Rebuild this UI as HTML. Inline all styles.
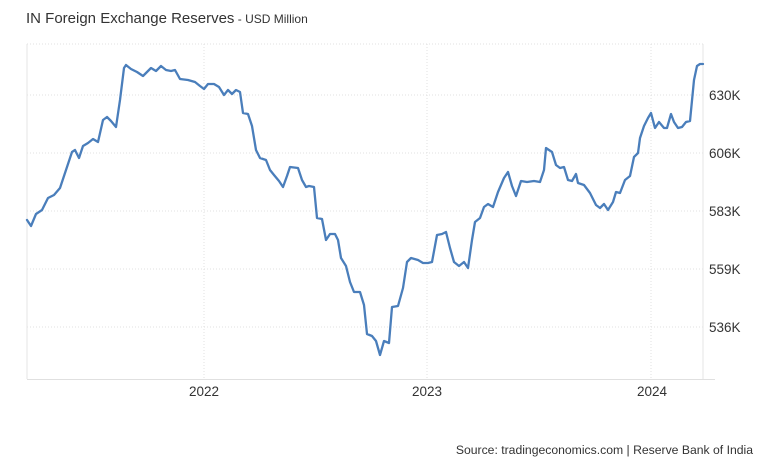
<!DOCTYPE html>
<html><head><meta charset="utf-8"><style>
html,body{margin:0;padding:0;background:#fff;width:778px;height:461px;overflow:hidden;font-family:"Liberation Sans",Arial,sans-serif;}
</style></head><body>
<svg width="778" height="461" xmlns="http://www.w3.org/2000/svg" font-family="Liberation Sans, Arial, sans-serif">
<text x="26" y="23" font-size="15" fill="#333">IN Foreign Exchange Reserves<tspan font-size="12"> - USD Million</tspan></text>
<g stroke="#e0e0e0" stroke-width="1" stroke-dasharray="1,2">
<line x1="27" y1="44" x2="703" y2="44"/>
<line x1="27" y1="95" x2="703" y2="95"/>
<line x1="27" y1="153" x2="703" y2="153"/>
<line x1="27" y1="211" x2="703" y2="211"/>
<line x1="27" y1="269" x2="703" y2="269"/>
<line x1="27" y1="327" x2="703" y2="327"/>
<line x1="204" y1="44" x2="204" y2="379"/>
<line x1="427" y1="44" x2="427" y2="379"/>
<line x1="651" y1="44" x2="651" y2="379"/>
</g>
<line x1="27" y1="44" x2="27" y2="379" stroke="#e6e6e6"/>
<line x1="703" y1="44" x2="703" y2="379" stroke="#e6e6e6"/>
<line x1="27" y1="379.5" x2="715" y2="379.5" stroke="#e0e0e0"/>
<g font-size="13.5" fill="#333">
<text x="709" y="100">630K</text>
<text x="709" y="158">606K</text>
<text x="709" y="216">583K</text>
<text x="709" y="274">559K</text>
<text x="709" y="332">536K</text>
<text x="204" y="396" text-anchor="middle">2022</text>
<text x="427" y="396" text-anchor="middle">2023</text>
<text x="652" y="396" text-anchor="middle">2024</text>
</g>
<text x="753" y="454" font-size="12.2" fill="#333" text-anchor="end">Source: tradingeconomics.com | Reserve Bank of India</text>
<polyline fill="none" stroke="#4a7ebb" stroke-width="2.3" stroke-linejoin="round" stroke-linecap="round" points="27,220 31,226 36,214 42,210 48,198 54,195 60,188 66,170 72,152 75,150 79,158 83,146 88,143 93,139 98,142 103,120 107,117 111,121 116,127 120,100 124,68 126,65 131,69 137,72 143,76 147,72 151,68 156,71 161,66 166,70 171,71 175,70 180,79 188,80 195,82 200,86 204,89 208,84 214,84 219,87 224,95 228,90 232,94 236,90 240,92 243,113 248,114 252,126 256,150 260,158 266,160 270,170 274,175 279,181 283,187 287,176 290,167 298,168 302,180 306,187 309,186 314,187 317,218 322,219 326,240 330,234 335,234 338,240 341,258 346,266 350,282 354,292 360,292 364,305 367,334 372,336 376,341 380,355 384,341 389,343 392,307 398,306 403,288 407,262 411,258 418,260 423,263 428,263 432,262 437,235 442,234 446,232 450,248 454,262 459,266 464,262 468,268 472,240 475,222 480,218 484,207 488,204 493,207 498,192 504,178 508,172 512,186 516,196 521,181 527,182 534,181 540,182 544,170 546,148 552,152 556,165 560,168 564,167 568,180 572,181 576,174 578,183 584,185 590,193 596,205 600,208 604,204 608,210 613,202 616,192 620,193 625,180 630,176 634,157 638,153 640,138 644,126 648,118 651,113 655,128 659,122 664,128 667,128 671,114 674,122 678,128 682,127 686,122 690,121 694,80 697,66 700,64 703,64"/>
</svg>
</body></html>
